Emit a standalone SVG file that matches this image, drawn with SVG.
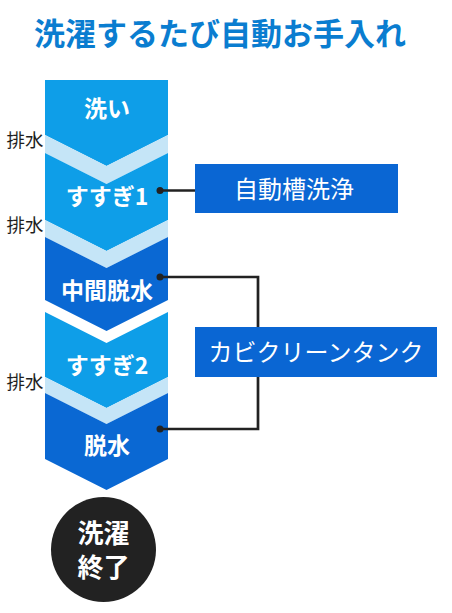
<svg xmlns="http://www.w3.org/2000/svg" width="452" height="613" viewBox="0 0 452 613">
<style>
.light{fill:#0e9ee8}
.dark{fill:#0a68d3}
.band{fill:#c5e5f7}
.step{font-family:"Noto Sans CJK JP","Noto Sans",sans-serif;font-weight:bold;font-size:23px;fill:#fff;text-anchor:middle}
.drain{font-family:"Noto Sans CJK JP","Noto Sans",sans-serif;font-size:18.5px;fill:#1e1e1e;text-anchor:middle}
.box{fill:#0a66d3}
.boxtxt{font-family:"Noto Sans CJK JP","Noto Sans",sans-serif;font-size:24px;fill:#fff;text-anchor:middle}
.conn{fill:none;stroke:#222;stroke-width:2.7}
.dot{fill:#222}
</style>
<rect width="452" height="613" fill="#fff"/>
<text x="34" y="45" font-family="'Noto Sans CJK JP','Noto Sans',sans-serif" font-weight="bold" font-size="31" fill="#0a7dd0">洗濯するたび自動お手入れ</text>
<g id="wash">
<polygon class="light" points="45,80 168,80 168,135 106.5,166 45,135"/>
<text class="step" x="107" y="117">洗い</text>
</g>
<polygon class="band" points="45,135 106.5,166 168,135 168,153 106.5,184 45,153"/>
<g id="rinse1">
<polygon class="light" points="45,153 106.5,184 168,153 168,220 106.5,251 45,220"/>
<text class="step" x="107" y="205">すすぎ1</text>
</g>
<polygon class="band" points="45,220 106.5,251 168,220 168,237 106.5,268 45,237"/>
<g id="spin1">
<polygon class="dark" points="45,237 106.5,268 168,237 168,300 106.5,331 45,300"/>
<text class="step" x="107" y="299">中間脱水</text>
</g>
<g id="rinse2">
<polygon class="light" points="45,312 106.5,343 168,312 168,377 106.5,408 45,377"/>
<text class="step" x="107" y="374">すすぎ2</text>
</g>
<polygon class="band" points="45,377 106.5,408 168,377 168,393 106.5,424 45,393"/>
<g id="spin2">
<polygon class="dark" points="45,393 106.5,424 168,393 168,459 106.5,490 45,459"/>
<text class="step" x="107" y="454">脱水</text>
</g>
<g id="drains">
<text class="drain" x="25" y="147">排水</text>
<text class="drain" x="25" y="232">排水</text>
<text class="drain" x="25" y="389">排水</text>
</g>
<g id="connectors">
<polyline class="conn" points="160,190.5 195,190.5"/>
<polyline class="conn" points="160,277 258,277 258,327"/>
<polyline class="conn" points="258,377 258,429 160,429"/>
<circle class="dot" cx="160" cy="190.5" r="3.5"/>
<circle class="dot" cx="160" cy="277" r="3.5"/>
<circle class="dot" cx="160" cy="429" r="3.5"/>
</g>
<g id="tubclean">
<rect class="box" x="195" y="164" width="203" height="49"/>
<text class="boxtxt" x="294" y="198">自動槽洗浄</text>
</g>
<g id="kabiclean">
<rect class="box" x="195" y="327" width="242" height="50"/>
<text class="boxtxt" x="316" y="361">カビクリーンタンク</text>
</g>
<g id="end">
<circle cx="103.5" cy="549.5" r="52.5" fill="#222"/>
<text x="103.5" y="543" font-family="'Noto Sans CJK JP','Noto Sans',sans-serif" font-weight="bold" font-size="26" fill="#fff" text-anchor="middle">洗濯</text>
<text x="103.5" y="577" font-family="'Noto Sans CJK JP','Noto Sans',sans-serif" font-weight="bold" font-size="26" fill="#fff" text-anchor="middle">終了</text>
</g>
</svg>
